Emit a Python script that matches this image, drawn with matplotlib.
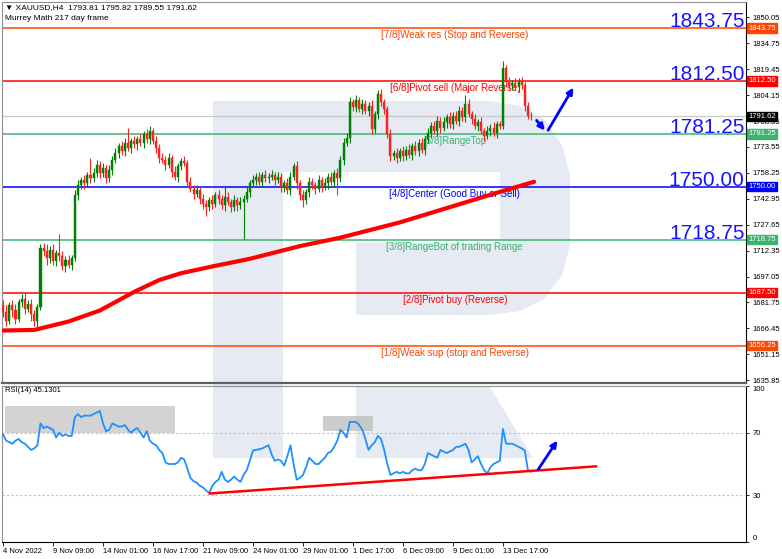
import matplotlib
matplotlib.use("Agg")
import matplotlib.pyplot as plt
from matplotlib.patches import Polygon, Rectangle

plt.rcParams['font.family'] = ['Liberation Sans', 'DejaVu Sans']

# ---- data (H4 bars, index 0 = 4 Nov 2022) ----
first_open = 1680.0
closes = [1676, 1671, 1680, 1677, 1672, 1682, 1684, 1678, 1681, 1675,
          1671, 1679, 1714, 1712, 1708, 1713, 1706, 1711, 1709, 1703,
          1707, 1704, 1708, 1745, 1751, 1754, 1752, 1757, 1755, 1758,
          1763, 1758, 1761, 1755, 1760, 1766, 1770, 1774, 1771, 1776,
          1773, 1777, 1775, 1778, 1776, 1781, 1778, 1783, 1777, 1773,
          1767, 1766, 1763, 1767, 1759, 1756, 1762, 1765, 1764, 1753,
          1749, 1746, 1748, 1743, 1740, 1738, 1742, 1740, 1745, 1743,
          1739, 1744, 1741, 1738, 1742, 1739, 1741, 1743, 1747, 1752,
          1754, 1756, 1753, 1757, 1755, 1756, 1757, 1754, 1756, 1750,
          1752, 1748, 1756, 1762, 1752, 1745, 1742, 1747, 1753, 1751,
          1749, 1754, 1750, 1752, 1756, 1753, 1758, 1755, 1766, 1776,
          1779, 1800, 1797, 1801, 1796, 1799, 1795, 1798, 1784, 1793,
          1805, 1800, 1796, 1781, 1768, 1770, 1767, 1771, 1768, 1772,
          1769, 1774, 1771, 1776, 1772, 1778, 1782, 1786, 1783, 1789,
          1785, 1788, 1791, 1787, 1792, 1789, 1795, 1791, 1799, 1793,
          1790, 1786, 1788, 1783, 1780, 1783, 1785, 1782, 1787, 1786,
          1820, 1812, 1810, 1811, 1809, 1812, 1810, 1798, 1792, 1791.62]
upper_wick = [3, 4, 2, 3, 4, 2, 3, 4, 2, 3,
              2, 2, 2, 3, 4, 2, 3, 2, 11, 3,
              2, 3, 2, 3, 3, 2, 3, 2, 10, 3,
              3, 2, 3, 2, 3, 2, 3, 2, 3, 3,
              9, 2, 3, 2, 3, 2, 3, 3, 2, 3,
              2, 3, 2, 3, 2, 3, 2, 2, 3, 2,
              3, 2, 3, 2, 3, 2, 2, 3, 2, 3,
              2, 6, 3, 2, 3, 2, 3, 2, 3, 2,
              3, 2, 3, 2, 3, 2, 3, 2, 3, 2,
              2, 3, 3, 2, 3, 2, 3, 2, 3, 2,
              2, 3, 2, 3, 2, 3, 2, 3, 2, 3,
              3, 3, 2, 3, 2, 3, 2, 2, 3, 2,
              2, 3, 2, 2, 3, 2, 3, 2, 3, 2,
              3, 2, 3, 2, 3, 2, 3, 2, 3, 3,
              2, 3, 2, 3, 2, 3, 3, 2, 5, 3,
              2, 3, 2, 3, 2, 3, 2, 3, 2, 2,
              4, 2, 3, 2, 3, 2, 3, 2, 2, 2.01]
lower_wick = [3, 3, 2, 4, 3, 2, 3, 3, 2, 4,
              3, 4, 2, 3, 4, 3, 2, 3, 3, 2,
              3, 2, 3, 2, 3, 2, 3, 2, 3, 2,
              2, 3, 2, 3, 2, 3, 2, 3, 2, 3,
              2, 3, 2, 3, 2, 3, 2, 3, 2, 3,
              3, 2, 3, 2, 3, 2, 3, 2, 2, 3,
              2, 3, 2, 3, 3, 5, 2, 3, 2, 3,
              2, 3, 2, 3, 2, 3, 2, 22, 2, 3,
              2, 3, 2, 3, 2, 3, 2, 3, 2, 3,
              3, 2, 3, 2, 3, 3, 4, 2, 3, 2,
              3, 2, 3, 2, 3, 2, 3, 10, 2, 3,
              2, 3, 2, 3, 2, 3, 2, 3, 3, 2,
              3, 2, 3, 2, 3, 2, 3, 2, 3, 2,
              2, 3, 2, 3, 2, 3, 2, 3, 2, 3,
              3, 2, 3, 2, 3, 2, 3, 2, 3, 2,
              3, 2, 3, 2, 3, 2, 3, 2, 3, 2,
              2, 3, 2, 3, 2, 3, 2, 3, 2, 2.07]

# 217 moving average, read at a few bars
ma_bars = [0, 10, 21, 31, 42, 50, 57, 67, 79, 95, 108, 127, 143, 159, 170]
ma_values = [1665.2, 1665.5, 1670.5, 1677, 1688, 1695, 1699, 1703, 1707.5,
             1715, 1720, 1729, 1738, 1747, 1753]

rsi_values = [69, 65, 64, 63, 65, 66, 64, 63, 61, 59,
              60, 62, 76, 73, 74, 73, 72, 67, 70, 68,
              69, 68, 68, 80, 82, 80, 81, 81, 81, 82,
              83, 84, 76, 71, 72, 76, 75, 74, 74, 75,
              72, 70, 72, 73, 70, 67, 71, 65, 63, 62,
              59, 57, 51, 50, 50, 50, 51, 54, 53, 47,
              41, 39, 38, 36, 35, 33, 31.5, 36, 38.5, 40,
              45, 40, 38.5, 40, 42, 40, 38.5, 43, 46, 52,
              58.7, 59, 59.5, 60, 61, 62, 56, 52, 53, 52,
              49, 55, 62, 50, 40, 41, 43, 48, 54, 52,
              50, 50, 52, 54, 57, 58, 61, 65, 72, 70,
              67, 77, 77, 77, 75, 72, 66, 59, 62, 64,
              68, 66, 59, 50, 43, 44, 45, 44, 45, 44,
              44, 46, 47, 46, 46, 50, 57, 56, 55, 54,
              59, 58, 57, 58, 59, 61, 61, 62, 63, 59,
              51, 53, 55, 50, 46, 44, 48, 50, 51, 52,
              72.5, 63, 63, 63, 62, 61, 60, 58.7, 46, 45.13]

murrey_levels = [1843.75, 1812.50, 1781.25, 1750.00, 1718.75, 1687.50, 1656.25]
murrey_texts = ['[7/8]Weak res (Stop and Reverse)', '[6/8]Pivot sell (Major Reverse)',
                '[5/8]RangeTop', '[4/8]Center (Good Buy or Sell)',
                '[3/8]RangeBot of trading Range', '[2/8]Pivot buy (Reverse)',
                '[1/8]Weak sup (stop and Reverse)']
murrey_colors = ['#ff4500', '#ff0000', '#3cb371', '#0000ff', '#3cb371', '#ff0000', '#ff4500']
big_levels = [1843.75, 1812.50, 1781.25, 1750.00, 1718.75]

price_ticks = [1850.05, 1834.75, 1819.45, 1804.15, 1788.85, 1773.55, 1758.25, 1742.95,
               1727.65, 1712.35, 1697.05, 1681.75, 1666.45, 1651.15, 1635.85]
last_price = 1791.62
time_ticks = [0, 16, 32, 48, 64, 80, 96, 112, 128, 144, 160]
time_labels = ['4 Nov 2022', '9 Nov 09:00', '14 Nov 01:00', '16 Nov 17:00', '21 Nov 09:00',
               '24 Nov 01:00', '29 Nov 01:00', '1 Dec 17:00', '6 Dec 09:00', '9 Dec 01:00',
               '13 Dec 17:00']

W, H = 782, 559
fig = plt.figure(figsize=(W / 100, H / 100), dpi=100)
fig.patch.set_facecolor('white')

# watermark logo behind everything (pixel coords)
bg = fig.add_axes([0, 0, 1, 1], zorder=0)
bg.set_xlim(0, W)
bg.set_ylim(H, 0)
bg.axis('off')
wm = '#e5eaf3'
bowl = [(213, 101), (490, 101), (520, 106), (545, 120), (562, 145), (570, 175),
        (570, 245), (562, 275), (545, 298), (520, 311), (490, 315), (356, 315),
        (356, 243), (283, 243), (283, 458), (213, 458)]
bg.add_patch(Polygon(bowl, closed=True, facecolor=wm, edgecolor='none'))
bg.add_patch(Rectangle((283, 172), 217, 71, facecolor='white', edgecolor='none'))
bg.add_patch(Polygon([(356, 387), (490, 387), (533, 458), (356, 458)], closed=True,
                     facecolor=wm, edgecolor='none'))

px = lambda v: v / W
py = lambda v: 1 - v / H
ax = fig.add_axes([px(2), py(383), px(744), (383 - 2) / H], zorder=1)
ax2 = fig.add_axes([px(2), py(542), px(744), (542 - 386) / H], zorder=1, sharex=ax)
for a in (ax, ax2):
    a.set_facecolor('none')
    a.yaxis.tick_right()
    a.tick_params(axis='y', labelsize=5.5, length=2.5, pad=2, width=0.6)
    for s in ('left', 'top'):
        a.spines[s].set_color('#909090')
    a.spines['right'].set_color('black')
ax.spines['bottom'].set_color('#606060')
ax.spines['bottom'].set_linewidth(1.6)

n = len(closes)
bars = list(range(n))
opens = [first_open] + closes[:-1]
ax.set_xlim(-0.32, 237.8)
ax.set_ylim(1634.2, 1859.1)

# murrey lines and texts
for lv, txt, col in zip(murrey_levels, murrey_texts, murrey_colors):
    ax.axhline(lv, color=col, lw=1.1, zorder=2)
    ax.text(144.6, lv - 1.2, txt, color=col, fontsize=7, ha='center', va='top', zorder=3)
    ax.text(1.003, lv, f'{lv:.2f}', transform=ax.get_yaxis_transform(), color='white',
            fontsize=5.5, ha='left', va='center', clip_on=False,
            bbox=dict(facecolor=col, edgecolor=col, pad=0.8))
for lv in big_levels:
    ax.text(0.998, lv + 0.7, f'{lv:.2f}', transform=ax.get_yaxis_transform(),
            color='#1414ff', fontsize=15, ha='right', va='baseline', zorder=3)

ax.axhline(last_price, color='#c8c8c8', lw=0.9, zorder=1)
ax.text(1.003, last_price, f'{last_price:.2f}', transform=ax.get_yaxis_transform(),
        color='white', fontsize=5.5, ha='left', va='center', clip_on=False,
        bbox=dict(facecolor='black', edgecolor='black', pad=0.8))

# candles
for i in bars:
    o, c = opens[i], closes[i]
    col = '#008000' if c >= o else '#ff2020'
    hi = max(o, c) + upper_wick[i]
    lo = min(o, c) - lower_wick[i]
    ax.vlines(i, lo, hi, color=col, lw=0.8, zorder=4)
    ax.bar(i, max(abs(c - o), 0.4), bottom=min(o, c), width=0.65, color=col,
           edgecolor=col, lw=0.3, zorder=4)

ax.plot(ma_bars, ma_values, color='#ff0000', lw=3, solid_capstyle='round', zorder=5)

ax.annotate('', xy=(174, 1782), xytext=(170.2, 1790.5),
            arrowprops=dict(arrowstyle='-|>', color='#0000ff', lw=2, mutation_scale=9), zorder=6)
ax.annotate('', xy=(183, 1810), xytext=(174, 1782),
            arrowprops=dict(arrowstyle='-|>', color='#0000ff', lw=2, mutation_scale=9), zorder=6)

ax.set_yticks(price_ticks)
ax.set_yticklabels([f'{t:.2f}' for t in price_ticks])
ax.tick_params(axis='x', bottom=False, labelbottom=False)

fig.text(px(5), py(8), '\u25bc XAUUSD,H4  1793.81 1795.82 1789.55 1791.62',
         fontsize=6, va='center', ha='left')
fig.text(px(5), py(19), 'Murrey Math 217 day frame', fontsize=6, va='center', ha='left')

# RSI panel
ax2.set_ylim(0, 100)
ax2.add_patch(Rectangle((0.6, 70), 54.4, 17, facecolor='#c8c8c8', alpha=0.8,
                        edgecolor='none', zorder=1))
ax2.add_patch(Rectangle((102.3, 71), 16, 9.5, facecolor='#c0c0c0', alpha=0.8,
                        edgecolor='none', zorder=1))
for lv in (70, 30):
    ax2.axhline(lv, color='#c0c0c0', lw=0.8, ls=(0, (2, 2)), zorder=1)
ax2.plot(bars, rsi_values, color='#1e90ff', lw=1.3, zorder=3)
ax2.plot([66.2, 189.8], [31.1, 48.5], color='#ff0000', lw=1.8, zorder=4)
ax2.annotate('', xy=(177.9, 66.5), xytext=(170.8, 45),
             arrowprops=dict(arrowstyle='-|>', color='#0000ff', lw=2, mutation_scale=9), zorder=6)
ax2.set_yticks([100, 70, 30, 0])
ax2.set_yticklabels(['100', '70', '30', '0'])
for lab in ax2.get_yticklabels():
    if lab.get_text() == '100':
        lab.set_va('top')
    elif lab.get_text() == '0':
        lab.set_va('bottom')
ax2.set_xticks(time_ticks)
ax2.set_xticklabels(time_labels, ha='left')
ax2.tick_params(axis='x', labelsize=5.5, length=3, pad=1.5, width=0.6)
ax2.spines['bottom'].set_color('black')
fig.text(px(5), py(391), 'RSI(14) 45.1301', fontsize=5.5, va='center', ha='left')

fig.savefig('out.png', dpi=100)
